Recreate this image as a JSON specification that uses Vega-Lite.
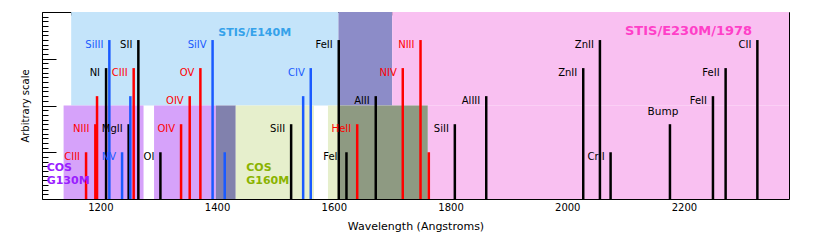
{
  "$schema": "https://vega.github.io/schema/vega-lite/v6.json",
  "width": 747,
  "height": 187,
  "autosize": "none",
  "padding": {"left": 42, "top": 12, "right": 41, "bottom": 50},
  "background": "white",
  "config": {
    "view": {"stroke": "black", "strokeWidth": 1},
    "axis": {"labelFont": "DejaVu Sans", "titleFont": "DejaVu Sans", "labelColor": "black", "titleColor": "black", "titleFontWeight": "normal", "tickColor": "black", "domain": false, "grid": false}
  },
  "datasets": {
    "regions": [
      {"x1": 1150, "x2": 1608, "y1": 2, "y2": 4, "region": "E140M"},
      {"x1": 1608, "x2": 1700, "y1": 2, "y2": 4, "region": "E140M+E230M"},
      {"x1": 1700, "x2": 2380, "y1": 2, "y2": 4, "region": "E230M"},
      {"x1": 1761, "x2": 2380, "y1": 0, "y2": 2, "region": "E230M"},
      {"x1": 1137, "x2": 1274, "y1": 0, "y2": 2, "region": "G130M"},
      {"x1": 1292, "x2": 1398, "y1": 0, "y2": 2, "region": "G130M"},
      {"x1": 1398, "x2": 1432, "y1": 0, "y2": 2, "region": "G130M+G160M"},
      {"x1": 1432, "x2": 1566, "y1": 0, "y2": 2, "region": "G160M"},
      {"x1": 1590, "x2": 1608, "y1": 0, "y2": 2, "region": "G160M"},
      {"x1": 1608, "x2": 1761, "y1": 0, "y2": 2, "region": "G160M+STIS"}
    ],
    "lines": [
      {"wl": 1175.5, "lev": 1.0, "label": "CIII", "kind": "hot"},
      {"wl": 1191.4, "lev": 1.6, "label": "NIII", "kind": "hot"},
      {"wl": 1194.3, "lev": 2.2, "label": "", "kind": "hot"},
      {"wl": 1209.8, "lev": 2.8, "label": "NI", "kind": "low"},
      {"wl": 1215.4, "lev": 3.4, "label": "SiIII", "kind": "mid"},
      {"wl": 1237.2, "lev": 1.0, "label": "NV", "kind": "mid"},
      {"wl": 1248.5, "lev": 1.6, "label": "MgII", "kind": "low"},
      {"wl": 1251.4, "lev": 2.2, "label": "", "kind": "mid"},
      {"wl": 1257.1, "lev": 2.8, "label": "CIII", "kind": "hot"},
      {"wl": 1265.1, "lev": 3.4, "label": "SII", "kind": "low"},
      {"wl": 1302.9, "lev": 1.0, "label": "OI", "kind": "low"},
      {"wl": 1338.3, "lev": 1.6, "label": "OIV", "kind": "hot"},
      {"wl": 1353.1, "lev": 2.2, "label": "OIV", "kind": "hot"},
      {"wl": 1371.4, "lev": 2.8, "label": "OV", "kind": "hot"},
      {"wl": 1392.3, "lev": 3.4, "label": "SiIV", "kind": "mid"},
      {"wl": 1413.1, "lev": 1.0, "label": "", "kind": "mid"},
      {"wl": 1526.9, "lev": 1.6, "label": "SiII", "kind": "low"},
      {"wl": 1547.5, "lev": 2.2, "label": "", "kind": "mid"},
      {"wl": 1560.5, "lev": 2.8, "label": "CIV", "kind": "mid"},
      {"wl": 1608.5, "lev": 3.4, "label": "FeII", "kind": "low"},
      {"wl": 1621.7, "lev": 1.0, "label": "FeII", "kind": "low"},
      {"wl": 1640.1, "lev": 1.6, "label": "HeII", "kind": "hot"},
      {"wl": 1671.9, "lev": 2.2, "label": "AlII", "kind": "low"},
      {"wl": 1718.2, "lev": 2.8, "label": "NIV", "kind": "hot"},
      {"wl": 1748.6, "lev": 3.4, "label": "NIII", "kind": "hot"},
      {"wl": 1762.8, "lev": 1.0, "label": "", "kind": "hot"},
      {"wl": 1807.4, "lev": 1.6, "label": "SiII", "kind": "low"},
      {"wl": 1861.2, "lev": 2.2, "label": "AlIII", "kind": "low"},
      {"wl": 2027.4, "lev": 2.8, "label": "ZnII", "kind": "low"},
      {"wl": 2056.0, "lev": 3.4, "label": "ZnII", "kind": "low"},
      {"wl": 2074.3, "lev": 1.0, "label": "CrII", "kind": "low"},
      {"wl": 2176.0, "lev": 1.6, "label": "Bump", "kind": "low"},
      {"wl": 2249.7, "lev": 2.2, "label": "FeII", "kind": "low"},
      {"wl": 2271.4, "lev": 2.8, "label": "FeII", "kind": "low"},
      {"wl": 2325.8, "lev": 3.4, "label": "CII", "kind": "low"}
    ],
    "titles": [
      {"t": "STIS/E140M", "wl": 1402, "lev": 3.55, "grp": "E140M"},
      {"t": "STIS/E230M/1978", "wl": 2099, "lev": 3.6, "grp": "E230M"},
      {"t": "COS", "wl": 1108, "lev": 0.67, "grp": "G130M"},
      {"t": "G130M", "wl": 1108, "lev": 0.39, "grp": "G130M"},
      {"t": "COS", "wl": 1450, "lev": 0.67, "grp": "G160M"},
      {"t": "G160M", "wl": 1450, "lev": 0.39, "grp": "G160M"}
    ]
  },
  "resolve": {"scale": {"color": "independent"}},
  "layer": [
    {
      "data": {"name": "regions"},
      "mark": {"type": "rect", "strokeWidth": 0},
      "encoding": {
        "x": {"field": "x1", "type": "quantitative", "scale": {"domain": [1100, 2380], "nice": false, "zero": false},
          "axis": {"orient": "bottom", "values": [1100,1150,1200,1250,1300,1350,1400,1450,1500,1550,1600,1650,1700,1750,1800,1850,1900,1950,2000,2050,2100,2150,2200,2250,2300,2350],
            "labelExpr": "datum.value % 200 === 0 ? '' + datum.value : ''", "tickSize": -3, "labelPadding": 6, "labelFontSize": 10, "labelFlush": false, "labelOverlap": false,
            "title": "Wavelength (Angstroms)", "titleFontSize": 11, "titlePadding": 8}},
        "x2": {"field": "x2"},
        "y": {"field": "y1", "type": "quantitative", "scale": {"domain": [0, 4], "nice": false, "zero": false},
          "axis": {"orient": "left", "values": [0.1,0.2,0.3,0.4,0.5,0.6,0.7,0.8,0.9,1,1.1,1.2,1.3,1.4,1.5,1.6,1.7,1.8,1.9,2,2.1,2.2,2.3,2.4,2.5,2.6,2.7,2.8,2.9,3,3.1,3.2,3.3,3.4,3.5,3.6,3.7,3.8,3.9],
            "labels": false, "tickSize": {"condition": {"test": "abs(datum.value - round(datum.value)) < 0.01", "value": -14}, "value": -6},
            "title": "Arbitrary scale", "titleFontSize": 10, "titlePadding": 11}},
        "y2": {"field": "y2"},
        "color": {"field": "region", "type": "nominal", "legend": null,
          "scale": {"domain": ["E140M", "E140M+E230M", "E230M", "G130M", "G130M+G160M", "G160M", "G160M+STIS"],
            "range": ["#c4e4fa", "#8c8cc8", "#f9c0f1", "#d6a2fa", "#8181ad", "#e6efcc", "#8e9a82"]}}
      }
    },
    {
      "data": {"name": "lines"},
      "mark": {"type": "rule", "strokeWidth": 2.5},
      "encoding": {
        "x": {"field": "wl", "type": "quantitative", "scale": {"domain": [1100, 2380], "nice": false, "zero": false},
          "axis": {"orient": "top", "values": [1100,1150,1200,1250,1300,1350,1400,1450,1500,1550,1600,1650,1700,1750,1800,1850,1900,1950,2000,2050,2100,2150,2200,2250,2300,2350],
            "labels": false, "tickSize": -3, "title": null}},
        "y": {"field": "lev", "type": "quantitative",
          "axis": {"orient": "right", "values": [0.1,0.2,0.3,0.4,0.5,0.6,0.7,0.8,0.9,1,1.1,1.2,1.3,1.4,1.5,1.6,1.7,1.8,1.9,2,2.1,2.2,2.3,2.4,2.5,2.6,2.7,2.8,2.9,3,3.1,3.2,3.3,3.4,3.5,3.6,3.7,3.8,3.9],
            "labels": false, "tickSize": {"condition": {"test": "abs(datum.value - round(datum.value)) < 0.01", "value": -14}, "value": -6}, "title": null}},
        "y2": {"datum": 0},
        "color": {"field": "kind", "type": "nominal", "legend": null,
          "scale": {"domain": ["low", "mid", "hot"], "range": ["#000000", "#1a5aff", "#ff0000"]}}
      }
    },
    {
      "data": {"name": "lines"},
      "transform": [{"filter": "datum.label !== 'Bump'"}],
      "mark": {"type": "text", "align": "right", "baseline": "middle", "dx": -6, "dy": 5, "font": "DejaVu Sans", "fontSize": 10},
      "encoding": {
        "x": {"field": "wl", "type": "quantitative", "axis": null},
        "y": {"field": "lev", "type": "quantitative", "axis": null},
        "text": {"field": "label"},
        "color": {"field": "kind", "type": "nominal", "legend": null,
          "scale": {"domain": ["low", "mid", "hot"], "range": ["#000000", "#1a5aff", "#ff0000"]}}
      }
    },
    {
      "data": {"name": "lines"},
      "transform": [{"filter": "datum.label === 'Bump'"}],
      "mark": {"type": "text", "align": "center", "baseline": "middle", "dx": -7, "dy": -12, "font": "DejaVu Sans", "fontSize": 10.5, "color": "black"},
      "encoding": {
        "x": {"field": "wl", "type": "quantitative", "axis": null},
        "y": {"field": "lev", "type": "quantitative", "axis": null},
        "text": {"field": "label"}
      }
    },
    {
      "data": {"name": "titles"},
      "transform": [{"filter": "datum.grp !== 'E230M'"}],
      "mark": {"type": "text", "align": "left", "baseline": "middle", "font": "DejaVu Sans", "fontWeight": "bold", "fontSize": 11},
      "encoding": {
        "x": {"field": "wl", "type": "quantitative", "axis": null},
        "y": {"field": "lev", "type": "quantitative", "axis": null},
        "text": {"field": "t"},
        "color": {"field": "grp", "type": "nominal", "legend": null,
          "scale": {"domain": ["E140M", "G130M", "G160M"], "range": ["#35a2ea", "#9a1eff", "#8ab300"]}}
      }
    },
    {
      "data": {"name": "titles"},
      "transform": [{"filter": "datum.grp === 'E230M'"}],
      "mark": {"type": "text", "align": "left", "baseline": "middle", "font": "DejaVu Sans", "fontWeight": "bold", "fontSize": 13, "color": "#ff3fc8"},
      "encoding": {
        "x": {"field": "wl", "type": "quantitative", "axis": null},
        "y": {"field": "lev", "type": "quantitative", "axis": null},
        "text": {"field": "t"}
      }
    }
  ]
}
